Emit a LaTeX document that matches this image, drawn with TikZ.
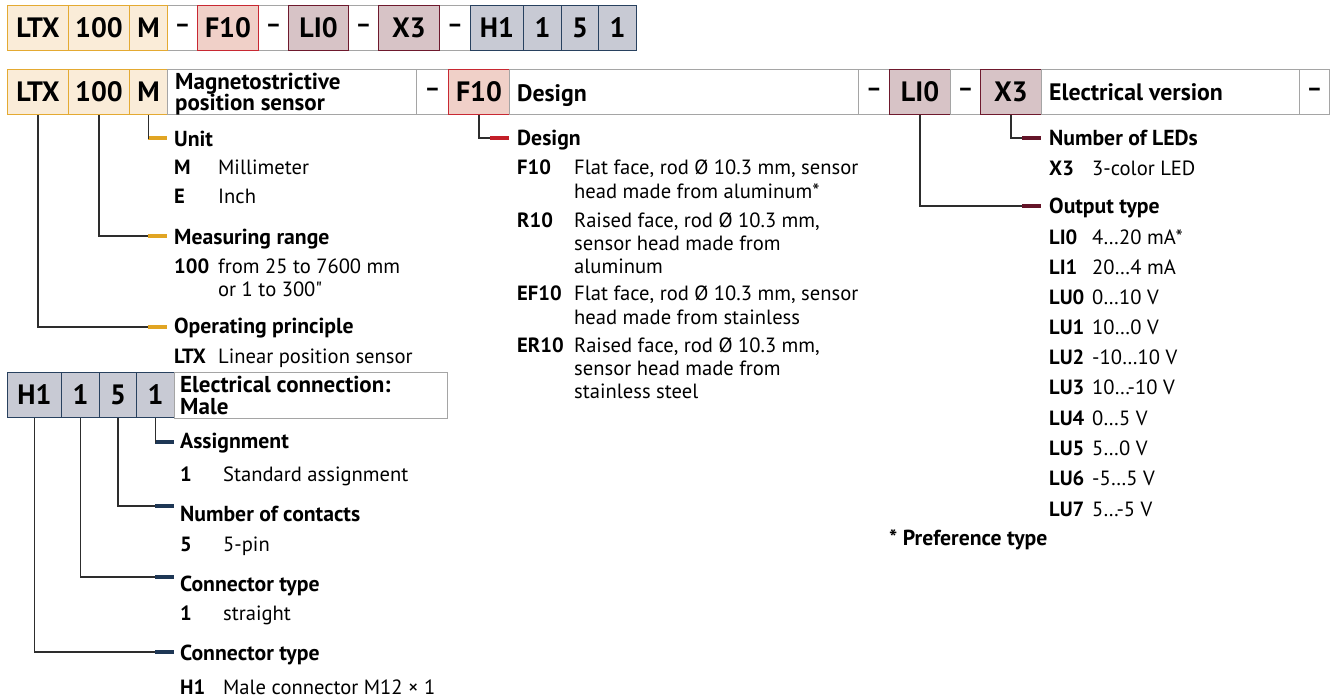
\documentclass[tikz,border=0pt]{standalone}
\usepackage{fontspec}
\setmainfont{PT Sans}
\newfontfamily\qfont{PT Sans}[Ligatures=TeXOff]
\definecolor{goldF}{RGB}{250,236,216}
\definecolor{goldB}{RGB}{228,170,50}
\definecolor{redF}{RGB}{240,208,200}
\definecolor{redB}{RGB}{200,40,50}
\definecolor{marF}{RGB}{215,195,198}
\definecolor{marB}{RGB}{110,25,45}
\definecolor{navF}{RGB}{200,202,212}
\definecolor{navB}{RGB}{40,65,95}
\definecolor{cellgray}{RGB}{165,165,165}
\definecolor{barGold}{RGB}{225,165,35}
\definecolor{barRed}{RGB}{195,30,40}
\definecolor{barMar}{RGB}{100,20,40}
\definecolor{barNav}{RGB}{30,55,85}
\definecolor{connC}{RGB}{45,45,45}
\newcommand\codef{\fontsize{28}{28}\selectfont\bfseries}
\newcommand\dashf{\fontsize{24}{24}\selectfont\bfseries}
\newcommand\headf{\fontsize{21.7}{22}\selectfont\bfseries}
\newcommand\itemcodef{\fontsize{20.6}{22}\selectfont\bfseries}
\newcommand\celltextf{\fontsize{23.8}{20}\selectfont\bfseries}
\newcommand\celltwof{\fontsize{23}{20}\selectfont\bfseries}
\newcommand\bodyf{\fontsize{20.6}{24}\selectfont}
\tikzset{
  cell/.style={draw=cellgray, line width=1pt, inner sep=0pt, anchor=north west, minimum height=45pt, font=\codef},
  goldcell/.style={cell, draw=goldB, fill=goldF},
  redcell/.style={cell, draw=redB, fill=redF},
  marcell/.style={cell, draw=marB, fill=marF},
  navcell/.style={cell, draw=navB, fill=navF},
  dashcell/.style={cell, font=\dashf},
  bar/.style={inner sep=0pt, minimum width=19pt, minimum height=4.5pt, draw=none},
  goldbar/.style={bar, fill=barGold},
  redbar/.style={bar, fill=barRed},
  marbar/.style={bar, fill=barMar},
  navbar/.style={bar, fill=barNav},
  conn/.style={draw=connC, line width=1.3pt},
  txt/.style={anchor=base west, inner sep=0pt, font=\bodyf},
  hd/.style={anchor=base west, inner sep=0pt, font=\headf},
  cd/.style={anchor=base west, inner sep=0pt, font=\itemcodef},
  ct/.style={anchor=base west, inner sep=0pt, font=\celltextf},
  firstline/.style={anchor=base west, inner sep=0pt, font=\celltwof, text depth=0pt},
  secondline/.style={anchor=base west, inner sep=0pt, font=\celltwof, text height=14pt},
}
\begin{document}
\begin{tikzpicture}[x=1pt,y=-1pt]
\useasboundingbox (0,0) rectangle (1336,699);
% ---------- top row ----------
\node[cell, minimum width=629pt, draw=cellgray] (toprow) at (7,5) {};
\node[goldcell, minimum width=61pt] (t1) at (7,5) {LTX};
\node[goldcell, minimum width=61pt] (t2) at (68,5) {100};
\node[goldcell, minimum width=38pt] (t3) at (129,5) {M};
\node[dashcell, minimum width=30pt, draw=none] (t4) at (167,5) {--};
\node[redcell, minimum width=61pt] (t5) at (197,5) {F10};
\node[dashcell, minimum width=30pt, draw=none] (t6) at (258,5) {--};
\node[marcell, minimum width=60pt] (t7) at (288,5) {LI0};
\node[dashcell, minimum width=30pt, draw=none] (t8) at (348,5) {--};
\node[marcell, minimum width=61pt] (t9) at (378,5) {X3};
\node[dashcell, minimum width=31pt, draw=none] (t10) at (439,5) {--};
\node[navcell, minimum width=53pt] (t11) at (470,5) {H1};
\node[navcell, minimum width=38pt] (t12) at (523,5) {1};
\node[navcell, minimum width=37pt] (t13) at (561,5) {5};
\node[navcell, minimum width=38pt] (t14) at (598,5) {1};
% ---------- header row ----------
\node[goldcell, minimum width=61pt] (hltx) at (7,69) {LTX};
\node[goldcell, minimum width=61pt] (h100) at (68,69) {100};
\node[goldcell, minimum width=38pt] (hm) at (129,69) {M};
\node[cell, minimum width=249pt] (hmag) at (167,69) {};
\node[firstline] (hmag1) at (175,89.5) {Magnetostrictive};
\node[secondline] (hmag2) at (175,110.5) {position sensor};
\node[dashcell, minimum width=32pt] (hd1) at (416,69) {--};
\node[redcell, minimum width=61pt] (hf10) at (448,69) {F10};
\node[cell, minimum width=349pt] (hdes) at (509,69) {};
\node[ct] (hdest) at (517,101) {Design};
\node[dashcell, minimum width=31pt] (hd2) at (858,69) {--};
\node[marcell, minimum width=61pt] (hli0) at (889,69) {LI0};
\node[dashcell, minimum width=30pt] (hd3) at (950,69) {--};
\node[marcell, minimum width=61pt] (hx3) at (980,69) {X3};
\node[cell, minimum width=258pt] (helv) at (1041,69) {};
\node[ct] (helvt) at (1049,100.5) {Electrical version};
\node[dashcell, minimum width=30pt] (hd4) at (1299,69) {--};
% ---------- gold block ----------
\node[goldbar] (bunit) at (157.5,138) {};
\node[goldbar] (brange) at (157.5,236) {};
\node[goldbar] (bop) at (157.5,327) {};
\draw[conn] (hm.south) |- (bunit.west);
\draw[conn] (h100.south) |- (brange.west);
\draw[conn] (hltx.south) |- (bop.west);
\node[hd] (unit) at (174,146) {Unit};
\node[cd] (cM) at (174,174) {M};
\node[txt] (dM) at (218,174) {Millimeter};
\node[cd] (cE) at (174,203) {E};
\node[txt] (dE) at (218,203) {Inch};
\node[hd] (range) at (174,244) {Measuring range};
\node[cd] (c100) at (174,273) {100};
\node[txt] (d100a) at (218,273) {from 25 to 7600 mm};
\node[txt] (d100b) at (218,296) {or 1 to 300{\qfont"}};
\node[hd] (oper) at (174,333) {Operating principle};
\node[cd] (cLTX) at (174,363) {LTX};
\node[txt] (dLTX) at (218,363) {Linear position sensor};
% ---------- design block ----------
\node[redbar] (bdes) at (499.5,138) {};
\draw[conn] (hf10.south) |- (bdes.west);
\node[hd] (design) at (517,145) {Design};
\node[cd] (cF10) at (517,174) {F10};
\node[txt] (dF10a) at (574,174) {Flat face, rod Ø 10.3 mm, sensor};
\node[txt] (dF10b) at (574,198) {head made from aluminum*};
\node[cd] (cR10) at (517,227) {R10};
\node[txt] (dR10a) at (574,227) {Raised face, rod Ø 10.3 mm,};
\node[txt] (dR10b) at (574,250) {sensor head made from};
\node[txt] (dR10c) at (574,273) {aluminum};
\node[cd] (cEF10) at (517,300) {EF10};
\node[txt] (dEF10a) at (574,300) {Flat face, rod Ø 10.3 mm, sensor};
\node[txt] (dEF10b) at (574,324) {head made from stainless};
\node[cd] (cER10) at (517,352) {ER10};
\node[txt] (dER10a) at (574,352) {Raised face, rod Ø 10.3 mm,};
\node[txt] (dER10b) at (574,375) {sensor head made from};
\node[txt] (dER10c) at (574,398) {stainless steel};
% ---------- electrical version block ----------
\node[marbar] (bled) at (1031.5,138) {};
\node[marbar] (bout) at (1031.5,206) {};
\draw[conn] (hx3.south) |- (bled.west);
\draw[conn] (hli0.south) |- (bout.west);
\node[hd] (leds) at (1049,145) {Number of LEDs};
\node[cd] (cX3) at (1049,175) {X3};
\node[txt] (dX3) at (1092,175) {3-color LED};
\node[hd] (outt) at (1049,213) {Output type};
\node[cd] (o0) at (1049,244) {LI0};   \node[txt] (v0) at (1092,244) {4…20 mA*};
\node[cd] (o1) at (1049,274) {LI1};   \node[txt] (v1) at (1092,274) {20…4 mA};
\node[cd] (o2) at (1049,304) {LU0};   \node[txt] (v2) at (1092,304) {0…10 V};
\node[cd] (o3) at (1049,334) {LU1};   \node[txt] (v3) at (1092,334) {10…0 V};
\node[cd] (o4) at (1049,364.5) {LU2}; \node[txt] (v4) at (1092,364.5) {-10…10 V};
\node[cd] (o5) at (1049,394.5) {LU3}; \node[txt] (v5) at (1092,394.5) {10…-10 V};
\node[cd] (o6) at (1049,425) {LU4};   \node[txt] (v6) at (1092,425) {0…5 V};
\node[cd] (o7) at (1049,455) {LU5};   \node[txt] (v7) at (1092,455) {5…0 V};
\node[cd] (o8) at (1049,485) {LU6};   \node[txt] (v8) at (1092,485) {-5…5 V};
\node[cd] (o9) at (1049,516) {LU7};   \node[txt] (v9) at (1092,516) {5…-5 V};
\node[hd] (pref) at (889,545) {* Preference type};
% ---------- electrical connection block ----------
\node[navcell, minimum width=54pt] (eh1) at (7,372) {H1};
\node[navcell, minimum width=38pt] (e1) at (61,372) {1};
\node[navcell, minimum width=37pt] (e5) at (99,372) {5};
\node[navcell, minimum width=38pt] (e1b) at (136,372) {1};
\node[cell, minimum width=273pt, minimum height=46pt] (econ) at (174,372) {};
\node[firstline] (econ1) at (180,392) {Electrical connection:};
\node[secondline] (econ2) at (180,414) {Male};
\node[navbar] (bas) at (164.5,442) {};
\node[navbar] (bnc) at (164.5,506) {};
\node[navbar] (bct) at (164.5,577) {};
\node[navbar] (bct2) at (164.5,652) {};
\draw[conn] (e1b.south) |- (bas.west);
\draw[conn] (e5.south) |- (bnc.west);
\draw[conn] (e1.south) |- (bct.west);
\draw[conn] (eh1.south) |- (bct2.west);
\node[hd] (assign) at (180,448) {Assignment};
\node[cd] (ca1) at (180,481) {1};
\node[txt] (da1) at (223,481) {Standard assignment};
\node[hd] (ncont) at (180,521) {Number of contacts};
\node[cd] (cn5) at (180,551) {5};
\node[txt] (dn5) at (223,551) {5-pin};
\node[hd] (ctype) at (180,591) {Connector type};
\node[cd] (cc1) at (180,620) {1};
\node[txt] (dc1) at (223,620) {straight};
\node[hd] (ctype2) at (180,660) {Connector type};
\node[cd] (ch1) at (180,694) {H1};
\node[txt] (dh1) at (223,694) {Male connector M12 × 1};
\end{tikzpicture}
\end{document}
